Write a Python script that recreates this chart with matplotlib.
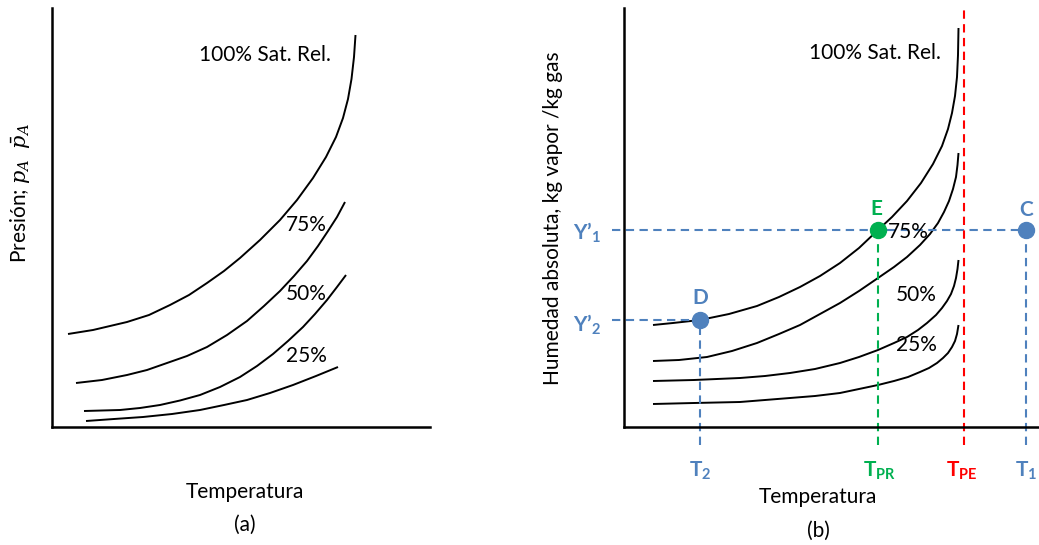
import matplotlib
matplotlib.use("Agg")
import matplotlib.pyplot as plt

plt.rcParams["font.family"] = ["Lato", "DejaVu Sans"]
plt.rcParams["mathtext.fontset"] = "custom"
plt.rcParams["mathtext.rm"] = "Lato"
plt.rcParams["mathtext.bf"] = "Lato:bold"
plt.rcParams["mathtext.it"] = "DejaVu Serif:italic"

BLUE = "#4F81BD"
GREEN = "#00B050"
RED = "#FF0000"

# (a) partial pressure vs temperature, arbitrary units
a_sat100_x = [16, 41, 75, 97, 118, 137, 155, 172, 188, 208, 228, 245, 261, 274, 284, 291, 296, 299.5, 302, 303.5]
a_sat100_y = [93, 97, 105, 112, 122, 132, 144, 156, 169, 187, 207, 227, 249, 270, 290, 309, 328, 348, 370, 392]
a_sat75_x = [24, 50, 75, 95, 115, 135, 155, 175, 195, 212, 228, 242, 255, 266, 276, 285, 293]
a_sat75_y = [44, 47, 52, 57, 64, 71, 80, 92, 106, 121, 136, 151, 166, 181, 196, 210, 225]
a_sat50_x = [32, 50, 68, 88, 108, 128, 148, 168, 188, 205, 221, 236, 251, 263, 275, 285, 294]
a_sat50_y = [16, 16.5, 17, 19, 22, 26.5, 32, 40, 50, 61, 73, 86, 100, 113, 127, 140, 152]
a_sat25_x = [34, 62, 91, 120, 148, 172, 195, 218, 241, 264, 286]
a_sat25_y = [6, 8, 10, 13, 17, 22, 27, 34, 42, 51, 60]

# (b) absolute humidity vs temperature, arbitrary units
b_sat100_x = [29, 49, 76, 105, 133, 155, 176, 196, 216, 235, 254, 268, 283, 297, 309, 318, 324, 328, 331, 333, 334, 334.5]
b_sat100_y = [102, 104, 107, 113, 121, 130, 140, 151, 164, 179, 197, 210, 226, 244, 263, 281, 298, 314, 331, 350, 372, 399]
b_sat75_x = [29, 55, 83, 108, 133, 155, 176, 196, 216, 235, 254, 270, 283, 296, 306, 314, 320, 325, 329, 332, 333.5, 334.5]
b_sat75_y = [66, 67, 70, 76, 84, 93, 102, 113, 124, 136, 149, 160, 170, 182, 193, 204, 215, 226, 238, 250, 262, 274]
b_sat50_x = [29, 70, 116, 141, 166, 191, 216, 235, 254, 270, 283, 294, 303, 312, 318, 323, 327, 330, 332, 333.5, 334.5]
b_sat50_y = [46, 47, 49, 51, 54, 58, 64, 70, 77, 84, 90, 97, 104, 112, 119, 126, 133, 141, 149, 158, 167]
b_sat25_x = [29, 70, 116, 141, 166, 191, 216, 235, 254, 270, 284, 296, 305, 313, 319, 324, 328, 331, 333, 334.5]
b_sat25_y = [23, 24, 25, 27, 29, 31, 34, 38, 42, 46, 50, 55, 59, 64, 69, 74, 80, 86, 93, 102]

T2, TPR, TPE, T1 = 76, 254, 340, 402
Y1, Y2 = 197, 107
point_D = (T2, Y2)
point_E = (TPR, Y1)
point_C = (T1, Y1)

W, H = 1039, 545
fig = plt.figure(figsize=(W / 100, H / 100), dpi=100)
fig.patch.set_facecolor("white")

ax_a = fig.add_axes([52 / W, 118 / H, 378 / W, 419 / H])
ax_b = fig.add_axes([624 / W, 118 / H, 415 / W, 419 / H])

for ax, width in ((ax_a, 378), (ax_b, 415)):
    ax.set_xlim(0, width)
    ax.set_ylim(0, 419)
    ax.set_xticks([])
    ax.set_yticks([])
    for side in ("top", "right"):
        ax.spines[side].set_visible(False)
    for side in ("left", "bottom"):
        ax.spines[side].set_linewidth(1.8)

curve_kw = dict(color="black", lw=1.4, solid_capstyle="butt", solid_joinstyle="round")
txt_kw = dict(fontsize=15, ha="center", va="center", color="black")

# --- panel (a)
for xs, ys in ((a_sat100_x, a_sat100_y), (a_sat75_x, a_sat75_y),
               (a_sat50_x, a_sat50_y), (a_sat25_x, a_sat25_y)):
    ax_a.plot(xs, ys, **curve_kw)
ax_a.text(213, 372, "100% Sat. Rel.", **txt_kw)
ax_a.text(254, 202, "75%", **txt_kw)
ax_a.text(254, 133, "50%", **txt_kw)
ax_a.text(254, 71, "25%", **txt_kw)
ax_a.text(-32, 234, r"Presión; $p_A$  $\bar{p}_A$", rotation=90, clip_on=False, **txt_kw)
ax_a.text(193, -65, "Temperatura", clip_on=False, **txt_kw)
ax_a.text(193, -98, "(a)", clip_on=False, **txt_kw)

# --- panel (b)
for xs, ys in ((b_sat100_x, b_sat100_y), (b_sat75_x, b_sat75_y),
               (b_sat50_x, b_sat50_y), (b_sat25_x, b_sat25_y)):
    ax_b.plot(xs, ys, **curve_kw)

dash = (0, (4, 2.6))
ax_b.plot([-12, point_C[0]], [Y1, Y1], color=BLUE, lw=1.5, ls=dash, clip_on=False)
ax_b.plot([-12, point_D[0]], [Y2, Y2], color=BLUE, lw=1.5, ls=dash, clip_on=False)
ax_b.plot([T2, T2], [-18, Y2], color=BLUE, lw=1.5, ls=dash, clip_on=False)
ax_b.plot([T1, T1], [-18, Y1], color=BLUE, lw=1.5, ls=dash, clip_on=False)
ax_b.plot([TPR, TPR], [-18, Y1], color=GREEN, lw=1.5, ls=dash, clip_on=False)
ax_b.plot([TPE, TPE], [-18, 419], color=RED, lw=1.5, ls=dash, clip_on=False)

for (px, py), col in ((point_D, BLUE), (point_E, GREEN), (point_C, BLUE)):
    ax_b.plot(px, py, "o", color=col, ms=11.5, clip_on=False, zorder=5)

bold_kw = dict(fontsize=15, fontweight="bold", ha="center", va="center", clip_on=False)
ax_b.text(T2, 129, "D", color=BLUE, **bold_kw)
ax_b.text(TPR - 2, 218, "E", color=GREEN, **bold_kw)
ax_b.text(T1, 217, "C", color=BLUE, **bold_kw)

ax_b.text(-37, Y1 - 3, "Y’$_{\\mathbf{1}}$", color=BLUE, **bold_kw)
ax_b.text(-37, Y2 - 5, "Y’$_{\\mathbf{2}}$", color=BLUE, **bold_kw)
ax_b.text(T2, -44, r"$\mathbf{T_2}$", color=BLUE, **bold_kw)
ax_b.text(TPR + 2, -44, r"$\mathbf{T_{PR}}$", color=GREEN, **bold_kw)
ax_b.text(TPE - 2, -44, r"$\mathbf{T_{PE}}$", color=RED, **bold_kw)
ax_b.text(T1, -44, r"$\mathbf{T_1}$", color=BLUE, **bold_kw)

ax_b.text(251, 374, "100% Sat. Rel.", **txt_kw)
ax_b.text(284, 195, "75%", **txt_kw)
ax_b.text(292, 132, "50%", **txt_kw)
ax_b.text(292, 82, "25%", **txt_kw)
ax_b.text(-71, 209, "Humedad absoluta, kg vapor /kg gas", rotation=90, clip_on=False, **txt_kw)
ax_b.text(194, -70, "Temperatura", clip_on=False, **txt_kw)
ax_b.text(194, -104, "(b)", clip_on=False, **txt_kw)

fig.savefig("out.png", dpi=100)
